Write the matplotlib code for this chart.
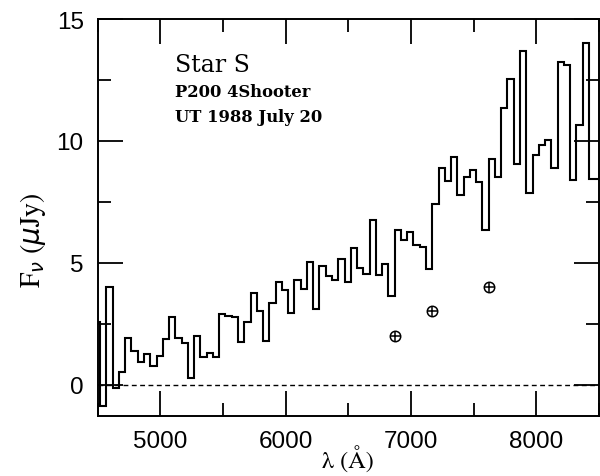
import numpy as np
import matplotlib
matplotlib.use("Agg")
import matplotlib.pyplot as plt
from matplotlib.ticker import MultipleLocator

# ---- data ----
bin_width = 50.0
first_edge = 4470.0
flux = [2.55,
        -0.9, 4.0, -0.15, 0.5, 1.9, 1.38, 0.93, 1.25, 0.78, 1.18,
        1.86, 2.76, 1.92, 1.72, 0.27, 1.98, 1.12, 1.29, 1.12, 2.89,
        2.80, 2.78, 1.76, 2.56, 3.76, 3.03, 1.79, 3.36, 4.2, 3.86,
        2.95, 4.3, 3.92, 5.04, 3.1, 4.85, 4.46, 4.30, 5.15, 4.2,
        5.6, 4.8, 4.55, 6.75, 4.5, 4.95, 3.64, 6.36, 5.95, 6.25,
        5.72, 5.63, 4.72, 7.42, 8.9, 8.36, 9.34, 7.79, 8.52, 8.79,
        8.31, 6.35, 9.24, 8.52, 11.33, 12.54, 9.06, 13.7, 7.85, 9.4,
        9.84, 10.02, 8.9, 13.23, 13.1, 8.38, 10.64, 14.0, 8.42, 8.42]
edges = first_edge + bin_width * np.arange(len(flux) + 1)

telluric_wave = [6870, 7170, 7625]
telluric_flux = [2.0, 3.0, 4.0]

x_ticks = [5000, 6000, 7000, 8000]
y_ticks = [0, 5, 10, 15]

label_lines = ["Star S", "P200 4Shooter", "UT 1988 July 20"]

# ---- figure ----
W, H = 600, 477
fig = plt.figure(figsize=(W / 100, H / 100), dpi=100)
ax = fig.add_axes([97.6 / W, 1 - 416.7 / H, 501.4 / W, (416.7 - 20) / H])

ax.stairs(flux, edges, color="black", lw=1.5, baseline=None)
ax.axhline(0, color="black", lw=1.0, ls=(0, (3.5, 2.5)))

ax.plot(telluric_wave, telluric_flux, ls="none", marker="o", ms=7.5,
        mfc="none", mec="black", mew=1.1)
ax.plot(telluric_wave, telluric_flux, ls="none", marker="+", ms=7.5,
        mec="black", mew=1.1)

ax.set_xlim(4500, 8500)
ax.set_ylim(-1.28, 15.0)

ax.set_xticks(x_ticks)
ax.set_yticks(y_ticks)
ax.xaxis.set_minor_locator(MultipleLocator(500))
ax.yaxis.set_minor_locator(MultipleLocator(2.5))
ax.tick_params(which="both", direction="in", top=True, right=True, width=1.3)
ax.tick_params(which="major", length=18)
ax.tick_params(which="minor", length=9.4)
ax.tick_params(axis="x", which="major", pad=10)
ax.tick_params(axis="y", which="major", pad=10)
for lab in ax.get_xticklabels() + ax.get_yticklabels():
    lab.set_fontfamily("Liberation Sans")
    lab.set_fontsize(17.5)
for s in ax.spines.values():
    s.set_linewidth(1.4)

plt.rcParams["mathtext.fontset"] = "stix"
ax.set_xlabel("λ (Å)", family="STIXGeneral", fontsize=17.5)
ax.xaxis.label.set_verticalalignment("center")
ax.xaxis.set_label_coords(0.5, (416.7 - 460.0) / 396.7)
ax.set_ylabel(r"F$_\nu$ ($\mu$Jy)", family="STIXGeneral", fontsize=20)
ax.yaxis.set_label_coords(-0.098, 0.445)

ax.text(5117, 12.86, label_lines[0], family="DejaVu Serif", fontsize=17,
        va="baseline", ha="left")
ax.text(5117, 11.83, label_lines[1], family="DejaVu Serif", fontsize=11.8,
        fontweight="bold", va="baseline", ha="left")
ax.text(5117, 10.82, label_lines[2], family="DejaVu Serif", fontsize=11.8,
        fontweight="bold", va="baseline", ha="left")

fig.savefig("out.png", dpi=100)
